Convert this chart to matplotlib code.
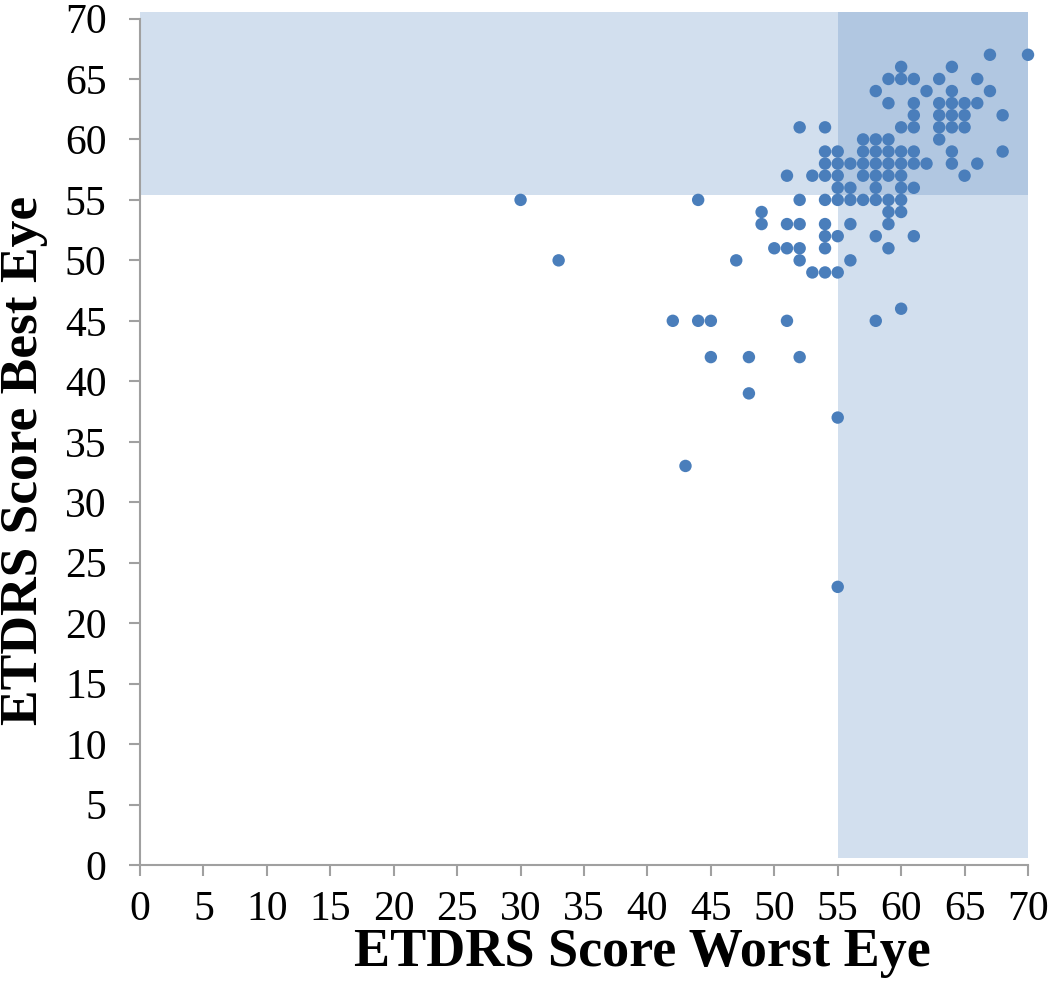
import matplotlib
matplotlib.use("Agg")
import matplotlib.pyplot as plt
from matplotlib.patches import Rectangle

# ETDRS scores, one pair per patient
worst_eye = [
    67, 70,
    60, 64,
    59, 60, 61, 63, 66,
    58, 62, 64, 67,
    59, 61, 63, 64, 65, 66,
    61, 63, 64, 65, 68,
    52, 54, 60, 61, 63, 64, 65,
    57, 58, 59, 63,
    54, 55, 57, 58, 59, 60, 61, 64, 68,
    54, 55, 56, 57, 58, 59, 60, 61, 62, 64, 66,
    51, 53, 54, 55, 57, 58, 59, 60, 65,
    55, 56, 58, 60, 61,
    30, 44, 52, 54, 55, 56, 57, 58, 59, 60,
    49, 59, 60,
    49, 51, 52, 54, 56, 59,
    54, 55, 58, 61,
    50, 51, 52, 54, 59,
    33, 47, 52, 56,
    53, 54, 55,
    60,
    42, 44, 45, 51, 58,
    45, 48, 52,
    48,
    55,
    43,
    55,
]
best_eye = (
    [67] * 2 + [66] * 2 + [65] * 5 + [64] * 4 + [63] * 6 + [62] * 5
    + [61] * 7 + [60] * 4 + [59] * 9 + [58] * 11 + [57] * 9 + [56] * 5
    + [55] * 10 + [54] * 3 + [53] * 6 + [52] * 4 + [51] * 5 + [50] * 4
    + [49] * 3 + [46] + [45] * 5 + [42] * 3 + [39] + [37] + [33] + [23]
)

ticks = list(range(0, 75, 5))
cutoff = 55

band_color = "#4f81bd"
dot_color = "#4a7ebb"
axis_color = "#a0a0a0"

plt.rcParams["font.family"] = ["Liberation Serif", "DejaVu Serif"]

fig = plt.figure(figsize=(10.5, 9.98), dpi=100)
ax = fig.add_axes([140 / 1050, 1 - 865 / 998, 888 / 1050, (865 - 18.5) / 998])

# shaded bands (top: best eye >= 55, right: worst eye >= 55)
ax.add_patch(Rectangle((0, cutoff + 0.4), 70, 70.5 - cutoff - 0.4,
                       facecolor=band_color, alpha=0.25, lw=0, clip_on=False, zorder=0))
ax.add_patch(Rectangle((cutoff, 0.6), 70 - cutoff, 69.9,
                       facecolor=band_color, alpha=0.25, lw=0, clip_on=False, zorder=0))

ax.scatter(worst_eye, best_eye, s=80, color=dot_color, edgecolors="none",
           clip_on=False, zorder=3)

ax.set_xlim(0, 70)
ax.set_ylim(0, 70)
ax.set_xticks(ticks)
ax.set_yticks(ticks)
for side in ["top", "right"]:
    ax.spines[side].set_visible(False)
for side in ["left", "bottom"]:
    ax.spines[side].set_color(axis_color)
    ax.spines[side].set_linewidth(1.5)
    ax.spines[side].set_zorder(2)
ax.tick_params(direction="out", length=8, width=1.5, color=axis_color,
               labelsize=30)
ax.tick_params(axis="x", pad=10)
ax.tick_params(axis="y", pad=16)
ax.set_facecolor("white")

fig.text(642 / 1050, 1 - 966 / 998, "ETDRS Score Worst Eye", ha="center",
         va="baseline", fontsize=39, fontweight="bold")
fig.text(24 / 1050, 1 - 460 / 998, "ETDRS Score Best Eye", ha="center",
         va="center", rotation=90, fontsize=38.5, fontweight="bold")

fig.savefig("out.png", dpi=100)
